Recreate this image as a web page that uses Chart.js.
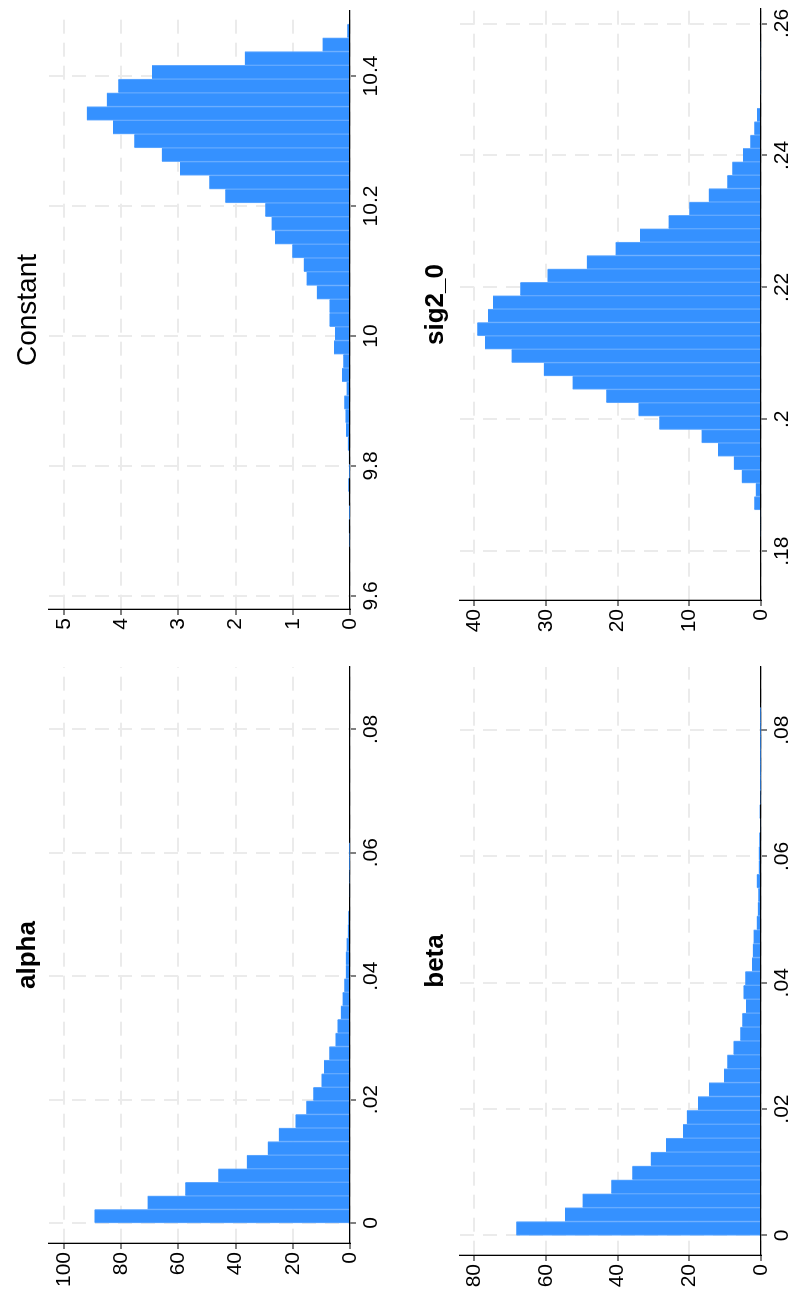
<!DOCTYPE html>
<html>
<head>
<meta charset="utf-8">
<script src="https://cdn.jsdelivr.net/npm/chart.js@4.4.1/dist/chart.umd.min.js"></script>
<style>
  html, body { margin: 0; padding: 0; background: #fff; overflow: hidden; }
  body { width: 799px; height: 1295px; position: relative; }
  /* the whole graph is laid out upright, then turned a quarter turn */
  #page { position: absolute; left: 0; top: 0; width: 1295px; height: 799px; background: #fff;
          transform-origin: 0 0; transform: translate(0, 1295px) rotate(-90deg); }
  #page canvas { position: absolute; }
</style>
</head>
<body>
<div id="page">
  <canvas id="alpha" width="640" height="400" style="left:0;top:0"></canvas>
  <canvas id="constant" width="655" height="400" style="left:640px;top:0"></canvas>
  <canvas id="beta" width="640" height="399" style="left:0;top:400px"></canvas>
  <canvas id="sig2" width="655" height="399" style="left:640px;top:400px"></canvas>
</div>
<script>
// alpha histogram
var alphaCounts = [89.4, 70.8, 57.6, 46.1, 36.1, 28.8, 24.9, 19.1, 15.3, 12.9, 10.0, 9.1, 7.3, 5.1,
  4.4, 3.2, 2.6, 2.0, 1.5, 1.5, 1.2, 0.8, 0.6, 0.35, 0.25, 0.2, 0.1, 0.1];
var alphaBinStart = 0;
var alphaBinWidth = 0.0022;
var alphaTicks = [0, 0.02, 0.04, 0.06, 0.08];
var alphaTickLabels = ["0", ".02", ".04", ".06", ".08"];
var alphaYTicks = [0, 20, 40, 60, 80, 100];

// Constant histogram
var constantCounts = [0.01, 0.02, 0.005, 0.02, 0.03, 0.005, 0.02, 0.04, 0.07, 0.08, 0.10, 0.06, 0.14,
  0.12, 0.28, 0.26, 0.36, 0.36, 0.58, 0.76, 0.81, 1.01, 1.31, 1.37, 1.48, 2.18, 2.46, 2.97, 3.29,
  3.77, 4.14, 4.60, 4.25, 4.05, 3.46, 1.84, 0.48, 0.05];
var constantBinStart = 9.6755;
var constantBinWidth = 0.02117;
var constantTicks = [9.6, 9.8, 10, 10.2, 10.4];
var constantTickLabels = ["9.6", "9.8", "10", "10.2", "10.4"];
var constantYTicks = [0, 1, 2, 3, 4, 5];

// beta histogram
var betaCounts = [68.3, 54.7, 49.8, 41.8, 35.9, 30.8, 26.5, 21.8, 20.7, 17.6, 14.5, 10.3, 9.4, 7.7,
  5.8, 5.2, 4.2, 4.9, 4.4, 2.5, 2.3, 2.1, 1.2, 0.9, 0.75, 1.2, 0.65, 0.65, 0.5, 0.2, 0.4, 0.15, 0.1,
  0.1, 0.1, 0.05, 0.05, 0.05];
var betaBinStart = 0;
var betaBinWidth = 0.0022;
var betaTicks = [0, 0.02, 0.04, 0.06, 0.08];
var betaTickLabels = ["0", ".02", ".04", ".06", ".08"];
var betaYTicks = [0, 20, 40, 60, 80];

// sig2_0 histogram
var sig2Counts = [0.1, 0.1, 0.94, 0.75, 2.7, 3.8, 6.0, 8.3, 14.2, 17.1, 21.6, 26.3, 30.3, 34.8, 38.5,
  39.6, 38.1, 37.4, 33.6, 29.8, 24.3, 20.3, 16.9, 12.9, 10.0, 7.3, 4.7, 4.0, 2.5, 1.5, 0.94, 0.56, 0,
  0.1, 0.1, 0.1, 0.1];
var sig2BinStart = 0.1822;
var sig2BinWidth = 0.00203;
var sig2Ticks = [0.18, 0.2, 0.22, 0.24, 0.26];
var sig2TickLabels = [".18", ".2", ".22", ".24", ".26"];
var sig2YTicks = [0, 10, 20, 30, 40];

Chart.defaults.font.family = "'Liberation Sans', Arial, sans-serif";
Chart.defaults.color = "#000";
Chart.defaults.animation = false;

var barColor = "#3591ff";
var barEdge = "#62a9ff";
var gridColor = "#ebebeb";

function binPoints(counts, start, width) {
  var pts = [];
  for (var i = 0; i < counts.length; i++) {
    pts.push({ x: start + width * (i + 0.5), y: counts[i] });
  }
  return pts;
}

function histogram(id, p) {
  new Chart(id, {
    type: "bar",
    data: {
      datasets: [{
        data: binPoints(p.counts, p.start, p.width),
        backgroundColor: barColor,
        borderColor: barEdge,
        borderWidth: { left: 1, right: 1, top: 0, bottom: 0 },
        borderSkipped: false,
        barPercentage: 1,
        categoryPercentage: 1,
      }],
    },
    options: {
      responsive: false,
      events: [],
      layout: { padding: { right: p.padRight, left: 0, top: 0, bottom: 0 } },
      plugins: {
        legend: { display: false },
        tooltip: { enabled: false },
        title: {
          display: true,
          text: p.title,
          fullSize: false,
          font: { size: p.titleSize, weight: p.bold ? "bold" : "normal", lineHeight: 1 },
          padding: { top: p.titleTop, bottom: p.titleBottom },
          color: "#000",
        },
      },
      scales: {
        x: {
          type: "linear",
          min: p.xMin,
          max: p.xMax,
          offset: false,
          afterBuildTicks: function (scale) {
            scale.ticks = p.xTicks.map(function (v) { return { value: v }; });
          },
          afterFit: function (scale) { scale.height = p.xAxisH; },
          ticks: {
            autoSkip: false,
            maxRotation: 0,
            padding: 3,
            font: { size: p.tickSize },
            callback: function (value, index) { return p.xLabels[index]; },
          },
          grid: {
            offset: false,
            color: gridColor,
            lineWidth: 2,
            tickLength: 6,
            tickColor: "#000",
            tickWidth: 1,
            tickBorderDash: [],
          },
          border: { display: true, color: "#000", width: 1.3, dash: [14, 9] },
        },
        y: {
          min: 0,
          max: p.yMax,
          afterBuildTicks: function (scale) {
            scale.ticks = p.yTicks.map(function (v) { return { value: v }; });
          },
          afterFit: function (scale) { scale.width = p.yAxisW; },
          ticks: {
            padding: 3,
            font: { size: p.tickSize },
            callback: function (value) { return String(value); },
          },
          grid: {
            color: gridColor,
            lineWidth: 2,
            tickLength: 6,
            tickColor: "#000",
            tickWidth: 1,
            tickBorderDash: [],
          },
          border: { display: true, color: "#000", width: 1.3, dash: [14, 9] },
        },
      },
    },
  });
}

histogram("alpha", {
  title: "alpha", bold: true, titleSize: 26, titleTop: 15, titleBottom: 8,
  counts: alphaCounts, start: alphaBinStart, width: alphaBinWidth,
  xMin: -0.00324, xMax: 0.0901, xTicks: alphaTicks, xLabels: alphaTickLabels,
  yMax: 105.3, yTicks: alphaYTicks,
  yAxisW: 52, xAxisH: 50, padRight: 12, tickSize: 21,
});

histogram("constant", {
  title: "Constant", bold: false, titleSize: 28, titleTop: 14, titleBottom: 7,
  counts: constantCounts, start: constantBinStart, width: constantBinWidth,
  xMin: 9.58, xMax: 10.5, xTicks: constantTicks, xLabels: constantTickLabels,
  yMax: 5.26, yTicks: constantYTicks,
  yAxisW: 46, xAxisH: 50, padRight: 11, tickSize: 21,
});

histogram("beta", {
  title: "beta", bold: true, titleSize: 26, titleTop: 23, titleBottom: 11,
  counts: betaCounts, start: betaBinStart, width: betaBinWidth,
  xMin: -0.0031, xMax: 0.09, xTicks: betaTicks, xLabels: betaTickLabels,
  yMax: 84, yTicks: betaYTicks,
  yAxisW: 40, xAxisH: 38, padRight: 12, tickSize: 21,
});

histogram("sig2", {
  title: "sig2_0", bold: true, titleSize: 26, titleTop: 23, titleBottom: 11,
  counts: sig2Counts, start: sig2BinStart, width: sig2BinWidth,
  xMin: 0.1726, xMax: 0.2622, xTicks: sig2Ticks, xLabels: sig2TickLabels,
  yMax: 42, yTicks: sig2YTicks,
  yAxisW: 55, xAxisH: 38, padRight: 9, tickSize: 21,
});
</script>
</body>
</html>
